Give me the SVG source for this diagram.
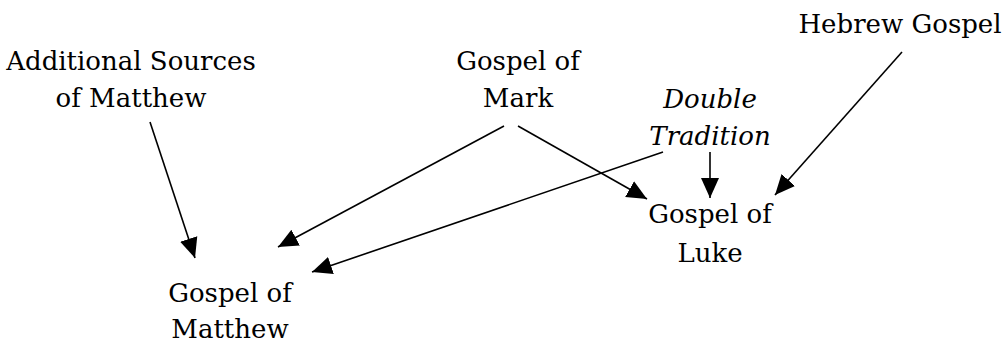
<svg xmlns="http://www.w3.org/2000/svg" width="1002" height="343" viewBox="0 0 1002 343">
<style>
text{font-family:"DejaVu Serif","Liberation Serif",serif;font-size:26px;fill:#000;text-anchor:middle}
.it{font-style:italic}
.c{stroke:#000;stroke-width:1.6;fill:none}
</style>
<defs>
<marker id="ah" viewBox="0 0 20 20" refX="20" refY="10" markerWidth="20" markerHeight="20" markerUnits="userSpaceOnUse" orient="auto">
<path d="M0,1 L20,10 L0,19 z" fill="#000"/>
</marker>
</defs>
<rect width="1002" height="343" fill="#fff"/>
<g id="connectors">
<path class="c" d="M150,122 L195,258" marker-end="url(#ah)"/>
<path class="c" d="M504,126 L278,247" marker-end="url(#ah)"/>
<path class="c" d="M518,126 L647,199" marker-end="url(#ah)"/>
<path class="c" d="M663,152 L312,272" marker-end="url(#ah)"/>
<path class="c" d="M710,152 L710,198" marker-end="url(#ah)"/>
<path class="c" d="M902,52 L775,195" marker-end="url(#ah)"/>
</g>
<g id="additional-sources">
<text x="131" y="70">Additional Sources</text>
<text x="131" y="107">of Matthew</text>
</g>
<g id="gospel-mark">
<text x="518" y="70">Gospel of</text>
<text x="518" y="107">Mark</text>
</g>
<g id="hebrew-gospel">
<text x="900" y="33">Hebrew Gospel</text>
</g>
<g id="double-tradition">
<text class="it" x="710" y="108">Double</text>
<text class="it" x="710" y="145">Tradition</text>
</g>
<g id="gospel-luke">
<text x="710" y="223">Gospel of</text>
<text x="710" y="262">Luke</text>
</g>
<g id="gospel-matthew">
<text x="230" y="302">Gospel of</text>
<text x="230" y="338">Matthew</text>
</g>
</svg>
